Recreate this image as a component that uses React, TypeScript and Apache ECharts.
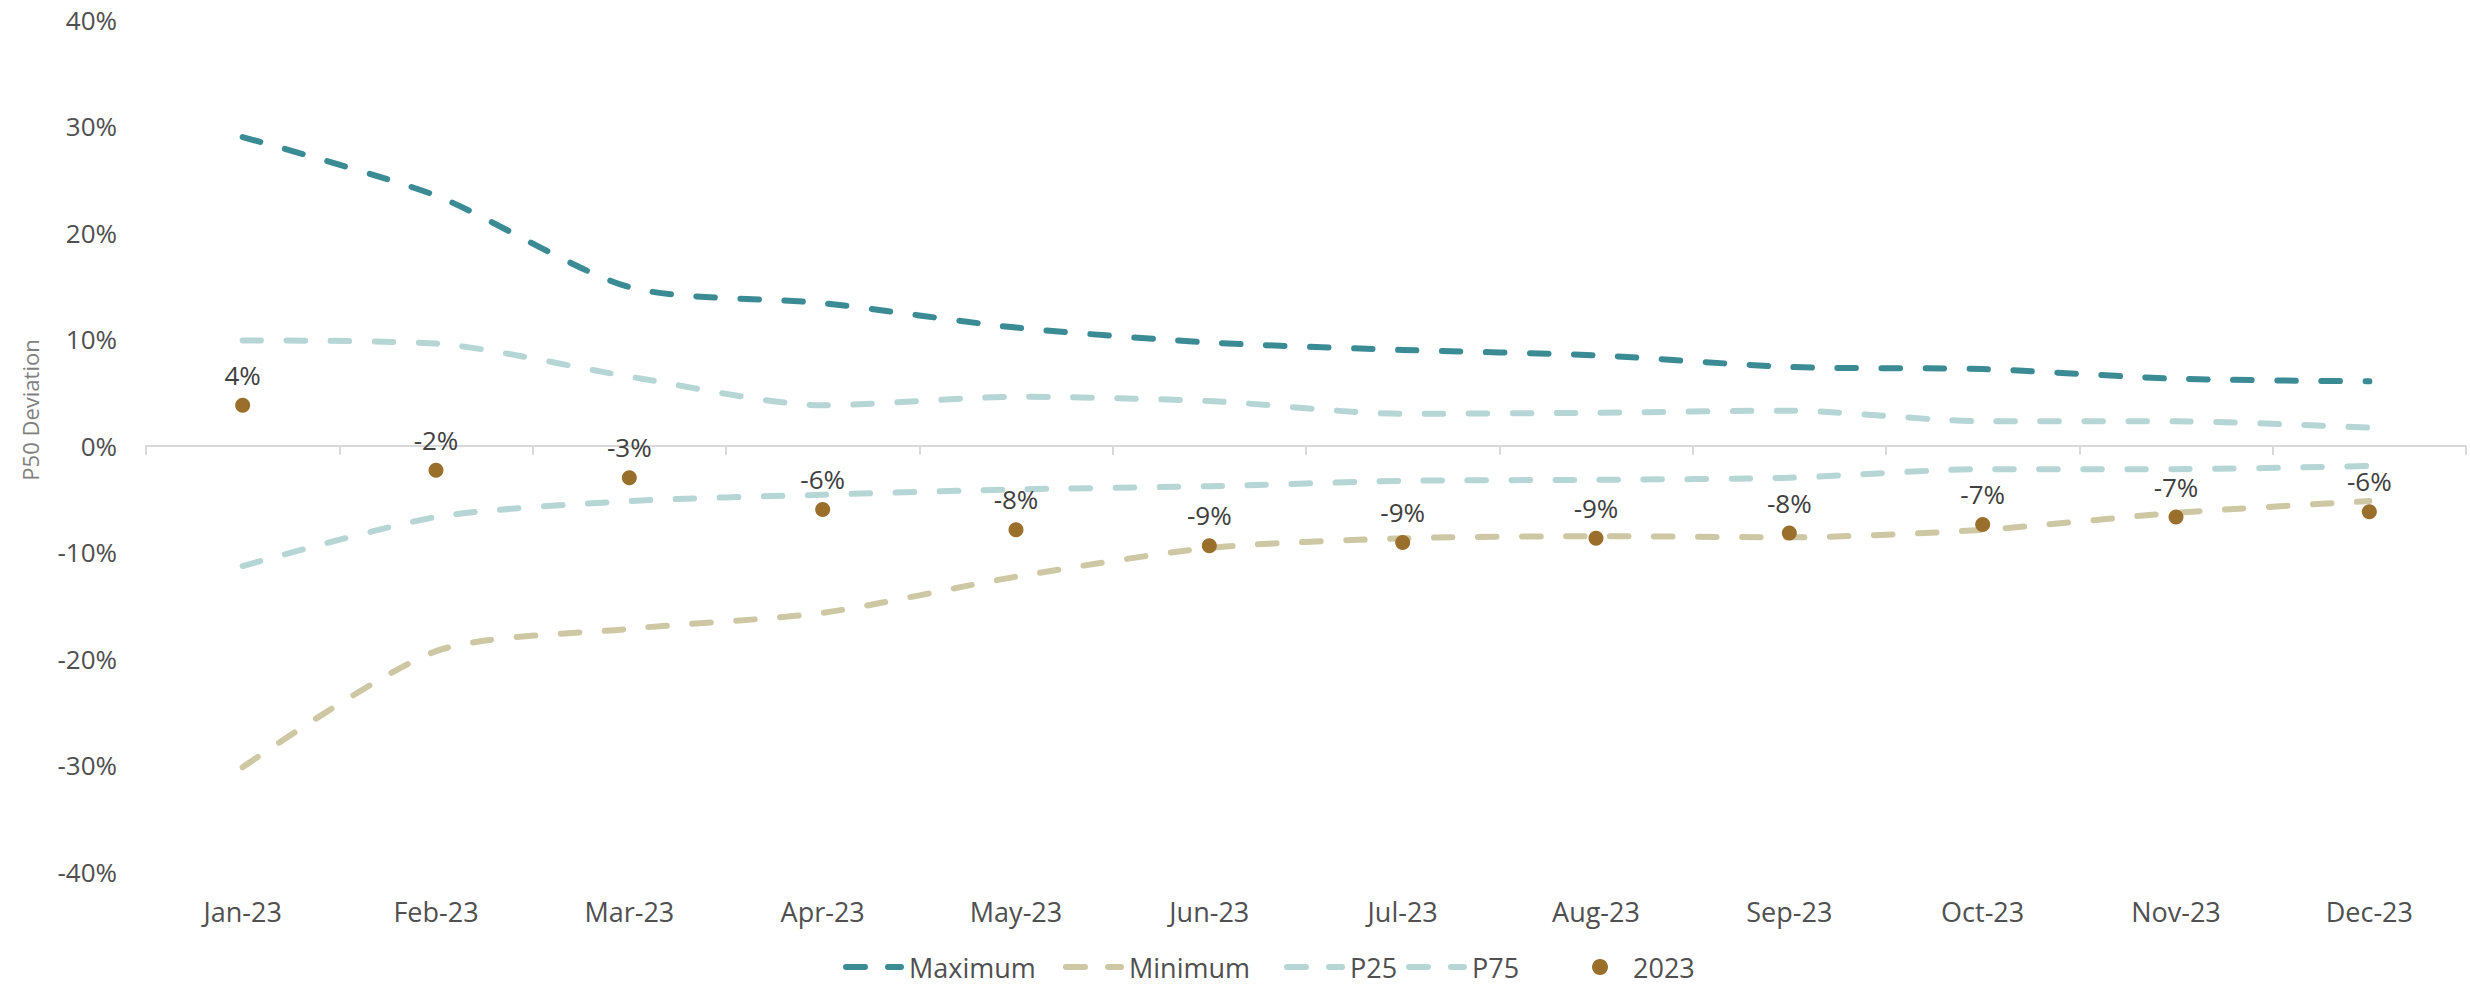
import React, { useEffect, useRef } from "react";
import * as echarts from "echarts";

const categories = ["Jan-23", "Feb-23", "Mar-23", "Apr-23", "May-23", "Jun-23", "Jul-23", "Aug-23", "Sep-23", "Oct-23", "Nov-23", "Dec-23"];
const maximum = [29.0, 23.5, 14.9, 13.4, 11.1, 9.7, 9.0, 8.5, 7.4, 7.2, 6.3, 6.05];
const minimum = [-30.2, -19.3, -17.2, -15.7, -12.3, -9.6, -8.7, -8.5, -8.6, -7.9, -6.3, -5.2];
const p25 = [-11.3, -6.7, -5.2, -4.6, -4.1, -3.8, -3.3, -3.2, -3.0, -2.2, -2.2, -1.9];
const p75 = [9.9, 9.6, 6.5, 3.8, 4.6, 4.2, 3.0, 3.1, 3.3, 2.3, 2.3, 1.7];
const y2023 = [3.8, -2.3, -3.0, -6.0, -7.9, -9.4, -9.1, -8.7, -8.2, -7.4, -6.7, -6.2];
const yTicks = { min: -40, max: 40, interval: 10 };
const legendNames = ["Maximum", "Minimum", "P25", "P75"];

const FONT = "Open Sans";
const C_MAX = "#3B8B94";
const C_MIN = "#CEC7A3";
const C_PCT = "#B5D6D5";
const C_DOT = "#9A6F2B";
const TEXT = "#505050";

const LEGEND_ICON =
  "path://M3,0H22A3,3 0 0 1 22,6H3A3,3 0 0 1 3,0Z M45,0H58A3,3 0 0 1 58,6H45A3,3 0 0 1 45,0Z";
const LEGEND_LEFT = [843, 1063, 1284, 1406];

function lineSeries(name: string, data: number[], color: string) {
  return {
    name,
    type: "line",
    data,
    smooth: 0.25,
    showSymbol: false,
    symbol: "none",
    color,
    itemStyle: { color },
    lineStyle: { color, width: 6, type: [18.5, 25.5], cap: "round", join: "round" },
    z: 2,
  };
}

export default function App() {
  const ref = useRef<HTMLDivElement>(null);
  useEffect(() => {
    if (!ref.current) return;
    const chart = echarts.init(ref.current, null, { renderer: "svg" });
    const legendText = { fontSize: 27, lineHeight: 30, color: TEXT, fontFamily: FONT };
    chart.setOption({
      animation: false,
      backgroundColor: "#ffffff",
      textStyle: { fontFamily: FONT },
      grid: { left: 146, right: 4, top: 20, bottom: 114.5, outerBoundsMode: "none" },
      xAxis: [
        {
          type: "category",
          data: categories,
          boundaryGap: true,
          position: "bottom",
          axisLine: { show: true, onZero: true, lineStyle: { color: "#D9D9D9", width: 2 } },
          axisTick: { show: true, length: 9, alignWithLabel: false, lineStyle: { color: "#D9D9D9", width: 2 } },
          axisLabel: { show: false },
          splitLine: { show: false },
        },
        {
          type: "category",
          data: categories,
          boundaryGap: true,
          position: "bottom",
          axisLine: { show: false, onZero: false },
          axisTick: { show: false },
          axisLabel: { show: true, margin: 26, fontSize: 27, color: TEXT, fontFamily: FONT },
          splitLine: { show: false },
        },
      ],
      yAxis: {
        type: "value",
        min: yTicks.min,
        max: yTicks.max,
        interval: yTicks.interval,
        axisLine: { show: false },
        axisTick: { show: false },
        splitLine: { show: false },
        axisLabel: { margin: 29, fontSize: 26, color: TEXT, fontFamily: FONT, formatter: "{value}%" },
      },
      legend: [
        ...legendNames.map((n, i) => ({
          left: LEGEND_LEFT[i],
          top: 952,
          padding: 0,
          itemWidth: 61,
          itemHeight: 6,
          icon: LEGEND_ICON,
          textStyle: legendText,
          data: [n],
        })),
        {
          left: 1592,
          top: 952,
          padding: 0,
          itemWidth: 16,
          itemHeight: 16,
          icon: "circle",
          textStyle: { ...legendText, padding: [0, 0, 0, 20] },
          data: ["2023"],
        },
      ],
      graphic: [
        {
          type: "text",
          x: 30,
          y: 410,
          rotation: Math.PI / 2,
          style: {
            text: "P50 Deviation",
            fontSize: 22,
            fontFamily: FONT,
            fill: "#7F7F7F",
            align: "center",
            verticalAlign: "middle",
          },
        },
      ],
      series: [
        lineSeries("Maximum", maximum, C_MAX),
        lineSeries("Minimum", minimum, C_MIN),
        lineSeries("P25", p25, C_PCT),
        lineSeries("P75", p75, C_PCT),
        {
          name: "2023",
          type: "scatter",
          data: y2023,
          symbol: "circle",
          symbolSize: 15,
          color: C_DOT,
          itemStyle: { color: C_DOT, opacity: 1 },
          z: 3,
          label: {
            show: true,
            position: "top",
            distance: 10,
            fontSize: 26,
            color: "#404040",
            fontFamily: FONT,
            formatter: (p: any) => Math.round(p.value) + "%",
          },
        },
      ],
    });
    return () => chart.dispose();
  }, []);
  return (
    <div
      ref={ref}
      style={{ position: "absolute", left: 0, top: 0, width: 2470, height: 986, background: "#fff" }}
    />
  );
}
